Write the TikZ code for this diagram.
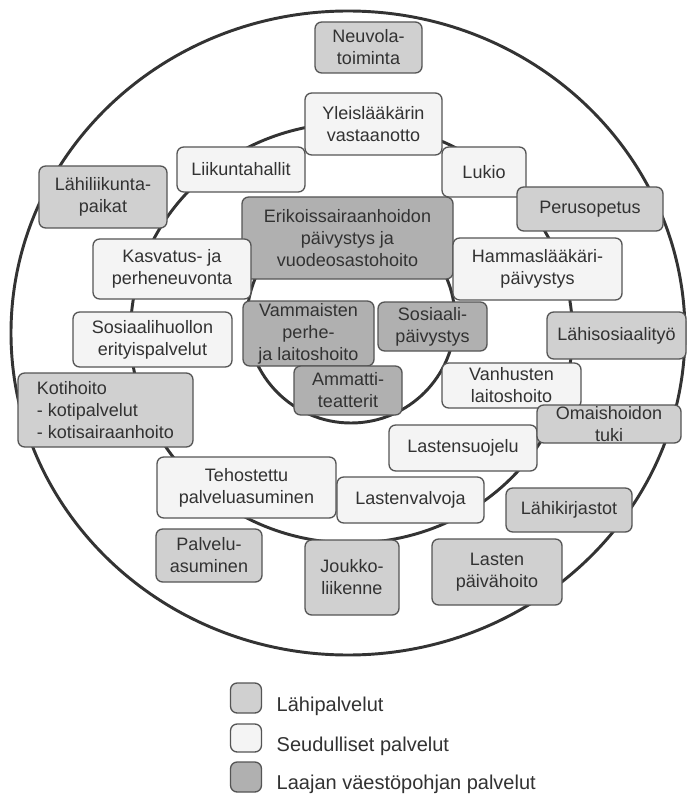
\documentclass[tikz,border=0pt]{standalone}
\usepackage{fontspec}
\setmainfont{Liberation Sans}
\definecolor{lahi}{RGB}{208,208,208}
\definecolor{seutu}{RGB}{244,244,244}
\definecolor{laaja}{RGB}{176,176,176}
\definecolor{reuna}{RGB}{85,85,85}
\definecolor{teksti}{RGB}{50,50,50}
\begin{document}
\begin{tikzpicture}[
    x=0.75pt, y=-0.75pt,
    every node/.style={font=\fontsize{13.5}{16.5}\selectfont, text=teksti},
    ympyra/.style={draw=black!80, line width=2.2pt},
    laatikko/.style={draw=reuna, line width=1pt, rounded corners=5pt, inner sep=0pt, align=center},
    wh/.style 2 args={minimum width=#1*0.75pt, minimum height=#2*0.75pt},
    lahibox/.style={laatikko, fill=lahi},
    seutubox/.style={laatikko, fill=seutu},
    laajabox/.style={laatikko, fill=laaja},
    selite/.style={font=\fontsize{15}{18}\selectfont, anchor=base west}
]
\fill[white] (0,0) rectangle (687,798);

\draw[ympyra] (348,333) ellipse [x radius=337, y radius=322];
\draw[ympyra] (351.5,333) ellipse [x radius=221, y radius=210];
\draw[ympyra] (351,319) circle [radius=104];

\node[lahibox, wh={107}{51}] (neuvola) at (368.5,47.5) {Neuvola-\\toiminta};
\node[seutubox, wh={137}{62}] (yleis) at (373.5,124) {Yleislääkärin\\vastaanotto};
\node[seutubox, wh={128}{45}] (liikunta) at (241,169.5) {Liikuntahallit};
\node[seutubox, wh={84}{50}] (lukio) at (484,172) {Lukio};
\node[lahibox, wh={128}{62}] (lahiliikunta) at (103,197) {Lähiliikunta-\\paikat};
\node[lahibox, wh={146}{44}] (perusopetus) at (590,209) {Perusopetus};
\node[laajabox, wh={211}{82}] (erikois) at (347.5,238) {Erikoissairaanhoidon\\päivystys ja\\vuodeosastohoito};
\node[seutubox, wh={158}{60}] (kasvatus) at (172,269) {Kasvatus- ja\\perheneuvonta};
\node[seutubox, wh={169}{62}] (hammas) at (537.5,269) {Hammaslääkäri-\\päivystys};
\node[laajabox, wh={131}{65}] (vammaisten) at (308.5,333.5) {Vammaisten\\perhe-\\ja laitoshoito};
\node[laajabox, wh={109}{49}] (sospaiv) at (432.5,326.5) {Sosiaali-\\päivystys};
\node[seutubox, wh={159}{55}] (soserit) at (152.5,339.5) {Sosiaalihuollon\\erityispalvelut};
\node[lahibox, wh={139}{47}] (lahisos) at (616.5,335.5) {Lähisosiaalityö};
\node[laajabox, wh={108}{49}] (ammatti) at (348,390.5) {Ammatti-\\teatterit};
\node[lahibox, wh={175}{74}, align=left] (kotihoito) at (105.5,410) {Kotihoito\\- kotipalvelut\\- kotisairaanhoito};
\node[seutubox, wh={139}{45}] (vanhusten) at (511.5,385.5) {Vanhusten\\laitoshoito};
\node[seutubox, wh={148}{46}] (lastensuojelu) at (463,448) {Lastensuojelu};
\node[lahibox, wh={144}{38}] (omaishoidon) at (609,424) {Omaishoidon\\tuki};
\node[seutubox, wh={179}{61}] (tehostettu) at (246.5,487.5) {Tehostettu\\palveluasuminen};
\node[seutubox, wh={147}{46}] (lastenvalvoja) at (410.5,500) {Lastenvalvoja};
\node[lahibox, wh={126}{44}] (lahikirjastot) at (569,510) {Lähikirjastot};
\node[lahibox, wh={106}{53}] (palveluasuminen) at (209,555.5) {Palvelu-\\asuminen};
\node[lahibox, wh={94}{75}] (joukko) at (352,577.5) {Joukko-\\liikenne};
\node[lahibox, wh={130}{66}] (lastenpaiva) at (497,572) {Lasten\\päivähoito};

\node[lahibox, wh={31}{30}] (leglahi) at (246,698) {};
\node[seutubox, wh={31}{28}] (legseutu) at (246,738) {};
\node[laajabox, wh={31}{30}] (leglaaja) at (246,777) {};
\node[selite] (txtlahi) at (272,711) {Lähipalvelut};
\node[selite] (txtseutu) at (272,751) {Seudulliset palvelut};
\node[selite] (txtlaaja) at (272,789) {Laajan väestöpohjan palvelut};
\end{tikzpicture}
\end{document}
